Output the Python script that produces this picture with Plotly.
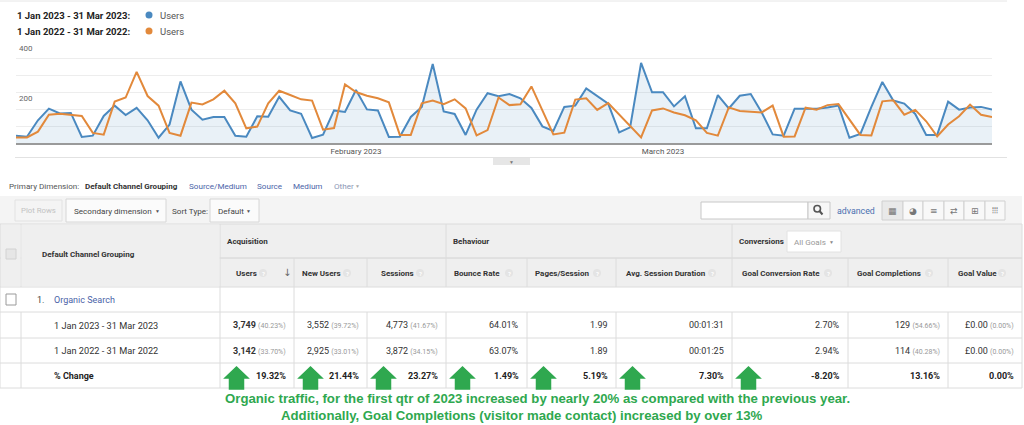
import plotly.graph_objects as go
import pandas as pd

W, H = 1024, 425

# ---------------- data ----------------
dates = pd.date_range("2023-01-01", "2023-03-31", freq="D")
users_2023 = [29, 25, 90, 136, 117, 119, 24, 29, 107, 148,
              111, 139, 90, 21, 73, 244, 132, 92, 103, 103,
              29, 25, 106, 104, 183, 129, 116, 20, 33, 129,
              123, 210, 133, 129, 24, 25, 103, 143, 313, 125,
              115, 32, 132, 197, 185, 194, 177, 139, 66, 48,
              143, 148, 216, 185, 156, 42, 62, 317, 201, 201,
              145, 185, 58, 58, 190, 137, 187, 194, 121, 34,
              29, 136, 136, 136, 141, 148, 21, 36, 143, 242,
              168, 156, 115, 32, 32, 164, 132, 141, 143, 133]
users_2022 = [22, 22, 45, 112, 116, 112, 107, 40, 33, 164,
              180, 282, 186, 148, 40, 29, 160, 153, 173, 207,
              157, 58, 65, 157, 207, 190, 173, 168, 53, 59,
              232, 202, 187, 177, 161, 32, 32, 157, 168, 154,
              173, 137, 30, 51, 180, 150, 153, 224, 131, 34,
              41, 172, 177, 131, 158, 114, 66, 22, 129, 137,
              121, 110, 90, 40, 29, 141, 127, 125, 121, 148,
              25, 26, 140, 132, 150, 154, 92, 32, 30, 165,
              169, 112, 131, 86, 26, 73, 106, 152, 112, 103]

legend_labels = ["1 Jan 2023 - 31 Mar 2023:", "1 Jan 2022 - 31 Mar 2022:"]
series_name = "Users"
x_tick_vals = ["2023-02-01", "2023-03-01"]
x_tick_text = ["February 2023", "March 2023"]
y_tick_vals = [0, 400 / 6, 800 / 6, 200, 1600 / 6, 2000 / 6, 400]
y_tick_text = ["", "", "", "200", "", "", "400"]

primary_label = "Primary Dimension:"
primary_options = ["Default Channel Grouping", "Source/Medium", "Source", "Medium", "Other"]

groups = ["Acquisition", "Behaviour", "Conversions"]
columns = ["Users", "New Users", "Sessions", "Bounce Rate", "Pages/Session",
           "Avg. Session Duration", "Goal Conversion Rate", "Goal Completions", "Goal Value"]
row_labels = ["1 Jan 2023 - 31 Mar 2023", "1 Jan 2022 - 31 Mar 2022", "% Change"]
channel = "Organic Search"
vals_2023 = ["3,749", "3,552", "4,773", "64.01%", "1.99", "00:01:31", "2.70%", "129", "£0.00"]
share_2023 = ["40.23%", "39.72%", "41.67%", None, None, None, None, "54.66%", "0.00%"]
vals_2022 = ["3,142", "2,925", "3,872", "63.07%", "1.89", "00:01:25", "2.94%", "114", "£0.00"]
share_2022 = ["33.70%", "33.01%", "34.15%", None, None, None, None, "40.28%", "0.00%"]
pct_change = ["19.32%", "21.44%", "23.27%", "1.49%", "5.19%", "7.30%", "-8.20%", "13.16%", "0.00%"]
arrow_up = [True, True, True, True, True, True, True, False, False]

note_lines = ["Organic traffic, for the first qtr of 2023 increased by nearly 20% as compared with the previous year.",
              "Additionally, Goal Completions (visitor made contact) increased by over 13%"]

# ---------------- styles / layout constants ----------------
BLUE = "#4a89c0"
ORANGE = "#e2893b"
GREEN = "#2fa84f"
LINK = "#4a63a8"
GRID = "#dcdcdc"
FONT = "Roboto, Arial, sans-serif"
UI = 8.1      # small UI font size
HEAD = 8.0    # header font size

col_edges = [0, 21, 220, 294, 367, 446, 527, 616, 732, 848, 948, 1022]
group_edges = [220, 446, 732, 1022]
head_x = [234, 300, 379, 452, 533, 624, 740, 855, 956]
help_x = [263, 347, 420, 509, 597, 712, 828, 929, 1002]
row_edges = [224, 258, 287, 312, 338, 363, 388]

shapes = []
annos = []


def rect(x0, y0, x1, y1, fill=None, line=None, lw=1, kind="rect"):
    shapes.append(dict(type=kind, xref="x2", yref="y2", x0=x0, y0=y0, x1=x1, y1=y1,
                       fillcolor=fill if fill else "rgba(0,0,0,0)",
                       line=dict(color=line if line else "rgba(0,0,0,0)", width=lw if line else 0),
                       layer="above"))


def seg(x0, y0, x1, y1, color=GRID, w=1):
    shapes.append(dict(type="line", xref="x2", yref="y2", x0=x0, y0=y0, x1=x1, y1=y1,
                       line=dict(color=color, width=w), layer="above"))


def txt(x, y, s, size=9, color="#333", bold=False, anchor="left", family=FONT):
    if bold:
        s = "<b>" + s + "</b>"
    annos.append(dict(x=x, y=y, xref="x2", yref="y2", text=s, showarrow=False,
                      xanchor=anchor, yanchor="middle",
                      font=dict(size=size, color=color, family=family)))


fig = go.Figure()
fig.add_trace(go.Scatter(x=dates, y=users_2023, mode="lines", line=dict(color=BLUE, width=2),
                         fill="tozeroy", fillcolor="rgba(74,137,192,0.12)", hoverinfo="skip",
                         showlegend=False))
fig.add_trace(go.Scatter(x=dates, y=users_2022, mode="lines", line=dict(color=ORANGE, width=2),
                         hoverinfo="skip", showlegend=False))
fig.add_trace(go.Scatter(x=[None], y=[None], xaxis="x2", yaxis="y2", showlegend=False,
                         hoverinfo="skip"))

# ---------------- legend ----------------
for i, (lab, col) in enumerate(zip(legend_labels, [BLUE, ORANGE])):
    yy = 15 + 16 * i
    txt(15, yy, lab, size=9.5, color="#222", bold=True)
    rect(145.5, yy - 3.5, 152.5, yy + 3.5, fill=col, kind="circle")
    txt(158, yy, series_name, size=9.5, color="#555")

# chart frame lines
seg(0, 1, 1007, 1, color="#e6e6e6")
seg(15, 157.5, 1007, 157.5, color="#e2e2e2")
rect(493, 158, 530, 165, fill="#e6e6e6")
txt(511.5, 161.5, "▼", size=5, color="#777", anchor="center")

# ---------------- primary dimension row ----------------
txt(7, 186, primary_label, size=UI, color="#555")
px_opts = [83, 187, 255, 291, 332]
for i, (o, xo) in enumerate(zip(primary_options, px_opts)):
    if i == 0:
        txt(xo, 186, o, size=HEAD, color="#333", bold=True)
    elif o == "Other":
        txt(xo, 186, o, size=UI, color="#8a96b5")
        txt(357, 186, "▼", size=5, color="#aaa", anchor="center")
    else:
        txt(xo, 186, o, size=UI, color=LINK)

# ---------------- toolbar ----------------
rect(0, 196, 1022, 224, fill="#f4f4f4")
rect(15, 200, 62, 221, fill="#f4f4f4", line="#e2e2e2")
txt(38.5, 210.5, "Plot Rows", size=7.8, color="#c2c2c2", anchor="center")
rect(66, 199, 166, 222, fill="#fbfbfb", line="#d6d6d6")
txt(72, 210.5, "Secondary dimension", size=UI, color="#444")
txt(157, 210.5, "▼", size=5, color="#555", anchor="center")
txt(170, 210.5, "Sort Type:", size=UI, color="#444")
rect(210, 199, 259, 222, fill="#fbfbfb", line="#d6d6d6")
txt(216, 210.5, "Default", size=UI, color="#444")
txt(248, 210.5, "▼", size=5, color="#555", anchor="center")

rect(701, 202, 808, 219, fill="white", line="#c8c8c8")
rect(808, 202, 830, 219, fill="#f7f7f7", line="#c8c8c8")
rect(814, 205.5, 820.5, 212, line="#555", lw=1.6, kind="circle")
seg(819.5, 211, 822.5, 214.5, color="#555", w=2)
txt(835, 210.5, "advanced", size=8.8, color="#4a6fb0")
icon_edges = [882, 903, 923, 944, 964, 985, 1005]
icons = ["▦", "◕", "≡", "⇄", "⊞", "⦙⦙⦙"]
for i, ic in enumerate(icons):
    rect(icon_edges[i], 201, icon_edges[i + 1], 220,
         fill="#e9e9e9" if i == 0 else "#f8f8f8", line="#d0d0d0")
    txt((icon_edges[i] + icon_edges[i + 1]) / 2, 210.5, ic, size=9, color="#777",
        anchor="center", family="DejaVu Sans")

# ---------------- table header ----------------
rect(0, row_edges[0], 1022, row_edges[2], fill="#efefef")
for y in row_edges:
    seg(0, y, 1022, y)
seg(220, row_edges[1], 1022, row_edges[1])
for x in [0, 21] + group_edges:
    seg(x, row_edges[0], x, row_edges[1])
for x in col_edges:
    seg(x, row_edges[1], x, row_edges[2])
for x in [0, 220, 294, 1022]:
    seg(x, row_edges[2], x, row_edges[3])
for x in col_edges:
    seg(x, row_edges[3], x, row_edges[6])
# cover header inner line across the spanning name column
rect(1, 224.5, 20.5, 286.5, fill="#efefef")
rect(21.5, 224.5, 219.5, 286.5, fill="#efefef")

rect(6, 249, 16, 259, fill="#e6e6e6", line="#d2d2d2")
txt(40, 254, "Default Channel Grouping", size=HEAD, color="#333", bold=True)
for g, xg in zip(groups, group_edges[:-1]):
    txt(xg + 5, 241, g, size=HEAD, color="#333", bold=True)
rect(787, 231, 841, 252, fill="white", line="#e2e2e2")
txt(792, 241.5, "All Goals", size=UI, color="#999")
txt(831, 241.5, "▼", size=5, color="#888", anchor="center")

for c, hx, qx in zip(columns, head_x, help_x):
    txt(hx, 273, c, size=HEAD, color="#333", bold=True)
    rect(qx - 4, 269, qx + 4, 277, fill="#e4e4e4", kind="circle")
    txt(qx, 273, "?", size=6, color="white", anchor="center", bold=True)
txt(287, 272, "↓", size=10, color="#666", anchor="center", family="DejaVu Sans")

# ---------------- table body ----------------
rect(6, 294, 16, 305, fill="white", line="#9a9a9a")
txt(35, 299.5, "1.", size=9, color="#444")
txt(52, 299.5, channel, size=9, color=LINK)

row_y = [325, 350.5, 375.5]
for r, (vals, shares) in enumerate([(vals_2023, share_2023), (vals_2022, share_2022)]):
    txt(52, row_y[r], row_labels[r], size=9.2, color="#333")
    for i, (v, s) in enumerate(zip(vals, shares)):
        t = "<b>%s</b>" % v if i == 0 else v
        if s is not None:
            t += " <span style='font-size:7px;color:#999'>(%s)</span>" % s
        txt(col_edges[i + 3] - 6, row_y[r], t, size=9, color="#333", anchor="right")

txt(52, row_y[2], row_labels[2], size=9, color="#222", bold=True)
for i, (v, up) in enumerate(zip(pct_change, arrow_up)):
    txt(col_edges[i + 3] - 6, row_y[2], v, size=9, color="#222", bold=True, anchor="right")
    if up:
        cx = col_edges[i + 2] + 16.5
        top, eave, bot = 367, 378, 389
        path = (f"M {cx},{top} L {cx + 11.5},{eave} L {cx + 7},{eave} L {cx + 7},{bot} "
                f"L {cx - 7},{bot} L {cx - 7},{eave} L {cx - 11.5},{eave} Z")
        shapes.append(dict(type="path", xref="x2", yref="y2", path=path, fillcolor=GREEN,
                           line=dict(color=GREEN, width=1.5), layer="above"))

# ---------------- note ----------------
txt(537.5, 398, note_lines[0], size=13.2, color=GREEN, bold=True, anchor="center",
    family="Arial, Liberation Sans, sans-serif")
txt(521, 415, note_lines[1], size=13.2, color=GREEN, bold=True, anchor="center",
    family="Arial, Liberation Sans, sans-serif")

fig.update_layout(
    width=W, height=H, margin=dict(l=0, r=0, t=0, b=0, pad=0, autoexpand=False),
    paper_bgcolor="white", plot_bgcolor="rgba(0,0,0,0)",
    font=dict(family=FONT, size=9, color="#333"),
    showlegend=False, hovermode=False,
    xaxis=dict(domain=[16 / W, 992 / W], range=[dates[0], dates[-1]], anchor="y",
               showgrid=False, showline=True, linecolor="#9a9a9a", linewidth=1.5,
               tickvals=x_tick_vals, ticktext=x_tick_text, ticks="", automargin=False,
               tickfont=dict(size=8, color="#555"), zeroline=False, fixedrange=True),
    yaxis=dict(domain=[1 - 143 / H, 1 - 42 / H], range=[0, 400], anchor="x",
               tickvals=y_tick_vals, ticktext=y_tick_text, ticklabelposition="inside",
               ticklabelshift=6, ticklabeloverflow="allow", gridcolor="#ededed",
               zeroline=False, showline=False, tickfont=dict(size=8, color="#666"),
               automargin=False, fixedrange=True),
    xaxis2=dict(domain=[0, 1], range=[0, W], anchor="y2", visible=False, fixedrange=True,
                automargin=False),
    yaxis2=dict(domain=[0, 1], range=[H, 0], anchor="x2", visible=False, fixedrange=True,
                automargin=False),
    shapes=shapes, annotations=annos,
)

fig.write_html("out.html", config={"displayModeBar": False},
               post_script="document.documentElement.style.margin='0';"
                           "document.body.style.margin='0';document.body.style.padding='0';"
                           "document.body.style.overflow='hidden';")
